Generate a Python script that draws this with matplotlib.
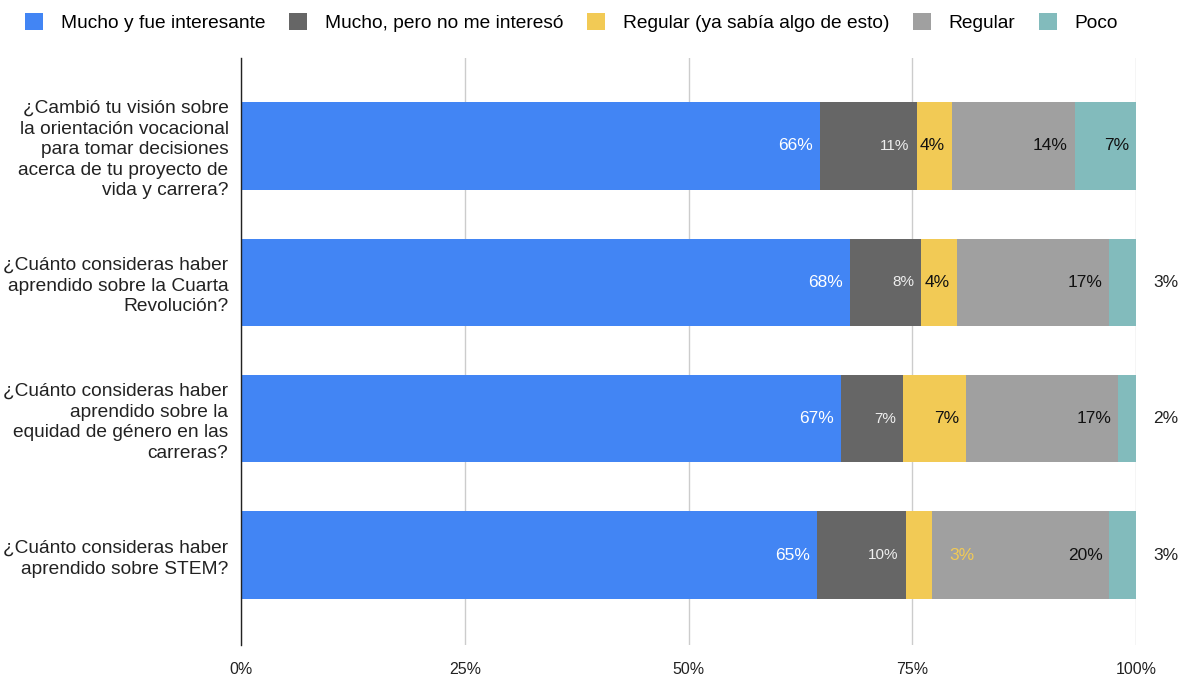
import matplotlib
matplotlib.use("Agg")
import matplotlib.pyplot as plt
from matplotlib.patches import Patch
import numpy as np

plt.rcParams['font.family'] = ['Liberation Sans', 'DejaVu Sans']

categories = [
    "¿Cambió tu visión sobre\nla orientación vocacional\npara tomar decisiones\nacerca de tu proyecto de\nvida y carrera?",
    "¿Cuánto consideras haber\naprendido sobre la Cuarta\nRevolución?",
    "¿Cuánto consideras haber\naprendido sobre la\nequidad de género en las\ncarreras?",
    "¿Cuánto consideras haber\naprendido sobre STEM?",
]
series_names = ["Mucho y fue interesante", "Mucho, pero no me interesó",
                "Regular (ya sabía algo de esto)", "Regular", "Poco"]
mucho_interesante = [66, 68, 67, 65]
mucho_no_intereso = [11, 8, 7, 10]
regular_sabia = [4, 4, 7, 3]
regular = [14, 17, 17, 20]
poco = [7, 3, 2, 3]
x_ticks = [0, 25, 50, 75, 100]
x_tick_labels = ["0%", "25%", "50%", "75%", "100%"]

colors = ['#4285F4', '#666666', '#F2CA55', '#A0A0A0', '#82BBBC']
label_colors = ['white', '#eeeeee', '#111111', '#111111', '#111111']
label_sizes = [12.5, 11, 12.5, 12.5, 12.5]

series = [mucho_interesante, mucho_no_intereso, regular_sabia, regular, poco]
data = np.array(series, dtype=float)
totals = data.sum(axis=0)
norm = data / totals * 100

fig = plt.figure(figsize=(11.85, 6.78), dpi=100)
ax = fig.add_axes([241/1185, 1 - 645/678, (1136-241)/1185, (645-58)/678])

y = np.arange(len(categories))
left = np.zeros(len(categories))
for i, name in enumerate(series_names):
    ax.barh(y, norm[i], left=left, height=0.64, color=colors[i], label=name, zorder=3)
    for j in range(len(categories)):
        end = left[j] + norm[i][j]
        txt = f"{series[i][j]}%"
        if series[i][j] < 3.5:
            c = '#222222' if i == len(series_names) - 1 else colors[i]
            ax.annotate(txt, xy=(end, y[j]), xytext=(17, 0), textcoords='offset pixels',
                        ha='left', va='center', fontsize=label_sizes[i], color=c,
                        zorder=5, annotation_clip=False)
        else:
            ax.annotate(txt, xy=(end, y[j]), xytext=(-7, 0), textcoords='offset pixels',
                        ha='right', va='center', fontsize=label_sizes[i],
                        color=label_colors[i], zorder=5)
    left += norm[i]

ax.set_xlim(0, 100)
ax.set_ylim(3.66, -0.645)
ax.set_yticks(y)
ax.set_yticklabels(categories, fontsize=13.8, color='#222222', multialignment='right',
                   linespacing=1.27)
ax.set_xticks(x_ticks)
ax.set_xticklabels(x_tick_labels, fontsize=11.5, color='#222222')
ax.tick_params(axis='both', length=0)
ax.tick_params(axis='y', pad=9)
ax.tick_params(axis='x', pad=12)
for s in ['top', 'right', 'bottom']:
    ax.spines[s].set_visible(False)
ax.spines['left'].set_color('#222222')
ax.spines['left'].set_linewidth(1)
ax.spines['left'].set_zorder(4)
ax.grid(axis='x', color='#cccccc', linewidth=1, zorder=0)
ax.set_axisbelow(True)

handles = [Patch(facecolor=c, edgecolor='none') for c in colors]
fig.legend(handles, series_names, loc='upper left', bbox_to_anchor=(0.01, 1.0),
           ncol=5, frameon=False, fontsize=13.8, handlelength=0.95, handleheight=0.95,
           handletextpad=0.9, columnspacing=1.25, borderaxespad=0.3)

fig.savefig("out.png", dpi=100)
